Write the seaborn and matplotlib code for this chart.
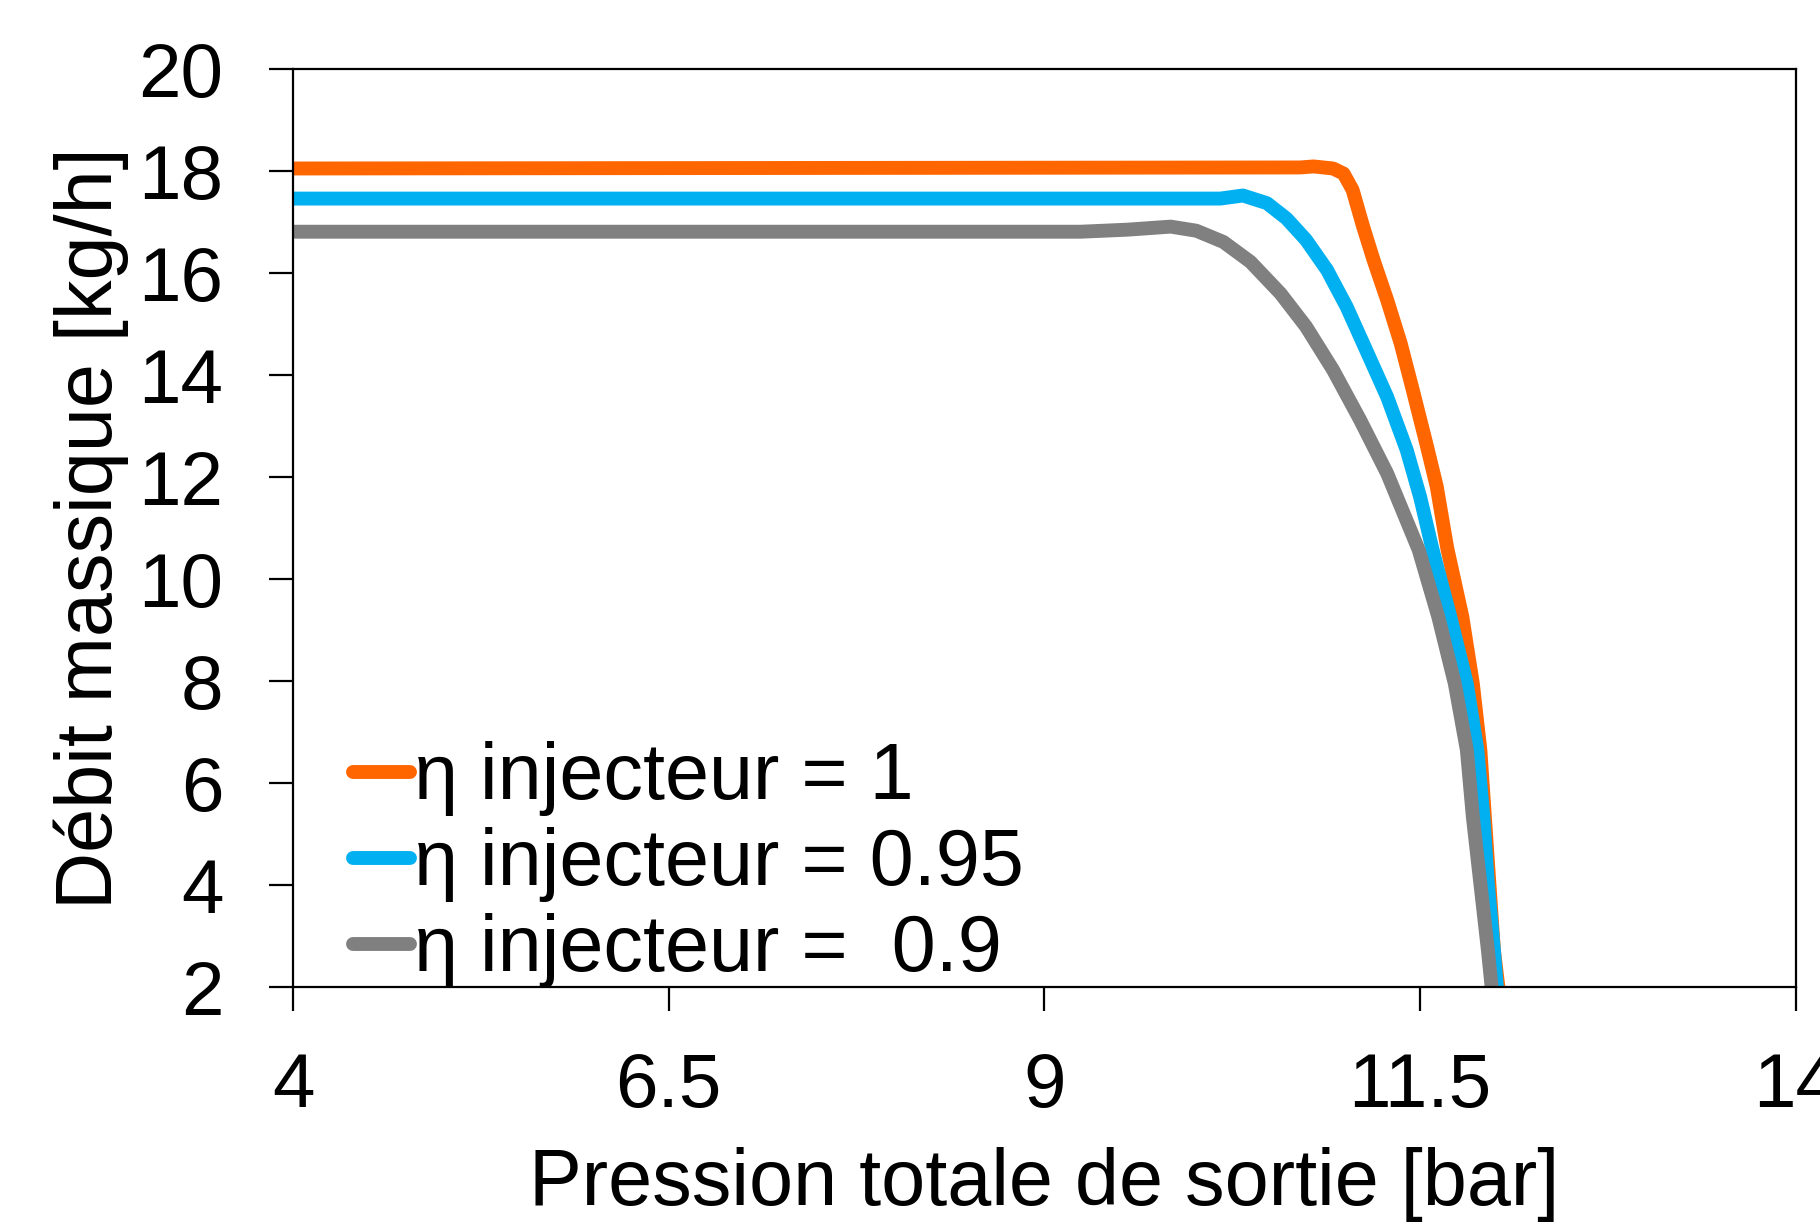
import pandas as pd
import seaborn as sns
import matplotlib.pyplot as plt

# values (pressure [bar], mass flow [kg/h])
p_eta100 = [4.0, 10.70, 10.79, 10.92, 10.99, 11.05, 11.12, 11.19, 11.28, 11.37, 11.45,
            11.54, 11.61, 11.68, 11.78, 11.85, 11.90, 11.93, 11.96, 11.99, 12.02]
q_eta100 = [18.05, 18.07, 18.09, 18.05, 17.95, 17.63, 16.91, 16.25, 15.47, 14.62, 13.71,
            12.66, 11.81, 10.60, 9.26, 7.95, 6.65, 5.34, 4.03, 2.73, 2.0]

p_eta095 = [4.0, 10.17, 10.32, 10.48, 10.61, 10.74, 10.88, 11.01, 11.14, 11.28, 11.41,
            11.50, 11.58, 11.70, 11.81, 11.88, 11.92, 11.95, 11.99, 12.01]
q_eta095 = [17.46, 17.46, 17.52, 17.37, 17.07, 16.65, 16.06, 15.34, 14.49, 13.57, 12.53,
            11.60, 10.60, 9.26, 7.95, 6.65, 5.34, 4.03, 2.73, 2.0]

p_eta090 = [4.0, 9.24, 9.55, 9.84, 10.01, 10.19, 10.37, 10.57, 10.74, 10.92, 11.10,
            11.28, 11.49, 11.62, 11.73, 11.81, 11.85, 11.90, 11.95, 11.975]
q_eta090 = [16.81, 16.81, 16.85, 16.91, 16.83, 16.61, 16.22, 15.60, 14.95, 14.10, 13.12,
            12.07, 10.57, 9.26, 7.95, 6.65, 5.34, 4.03, 2.73, 2.0]

labels = ["η injecteur = 1", "η injecteur = 0.95", "η injecteur =  0.9"]
colors = ["#FF6600", "#00B0F0", "#808080"]

x_ticks = [4, 6.5, 9, 11.5, 14]
x_ticklabels = ["4", "6.5", "9", "11.5", "14"]
y_ticks = [2, 4, 6, 8, 10, 12, 14, 16, 18, 20]

df = pd.concat([
    pd.DataFrame({"p": p_eta100, "q": q_eta100, "serie": labels[0]}),
    pd.DataFrame({"p": p_eta095, "q": q_eta095, "serie": labels[1]}),
    pd.DataFrame({"p": p_eta090, "q": q_eta090, "serie": labels[2]}),
], ignore_index=True)

sns.set_style("ticks")
plt.rcParams["font.family"] = ["Liberation Sans", "DejaVu Sans"]
plt.rcParams["text.color"] = "black"
plt.rcParams["axes.labelcolor"] = "black"

fig = plt.figure(figsize=(18.2, 12.24), dpi=100)
ax = fig.add_axes([0.161, 0.1936, 0.8258, 0.75])

lw = 10
sns.lineplot(data=df, x="p", y="q", hue="serie", hue_order=labels,
             palette=dict(zip(labels, colors)), linewidth=lw,
             estimator=None, sort=False, solid_capstyle="round",
             solid_joinstyle="round", ax=ax)

ax.set_xlim(4, 14)
ax.set_ylim(2, 20)
ax.set_xticks(x_ticks)
ax.set_xticklabels(x_ticklabels)
ax.set_yticks(y_ticks)
ax.tick_params(axis="both", direction="out", length=17, width=1.6,
               colors="black", labelsize=55)
ax.tick_params(axis="x", pad=30)
ax.tick_params(axis="y", pad=33)
for s in ax.spines.values():
    s.set_linewidth(1.6)
    s.set_color("black")

ax.set_xlabel("Pression totale de sortie [bar]", fontsize=57, labelpad=17)
ax.set_ylabel("Débit massique [kg/h]", fontsize=57, labelpad=7)

old = ax.get_legend()
handles = old.legend_handles
for h, c in zip(handles, colors):
    h.set_linewidth(lw)
    h.set_color(c)
    h.set_solid_capstyle("round")
ax.legend(handles, labels, loc="lower left", bbox_to_anchor=(0.019, -0.036),
          frameon=False, fontsize=57, handlelength=0.72, handletextpad=0.05,
          labelspacing=0.14, borderaxespad=0)

fig.savefig("out.png", dpi=100)
